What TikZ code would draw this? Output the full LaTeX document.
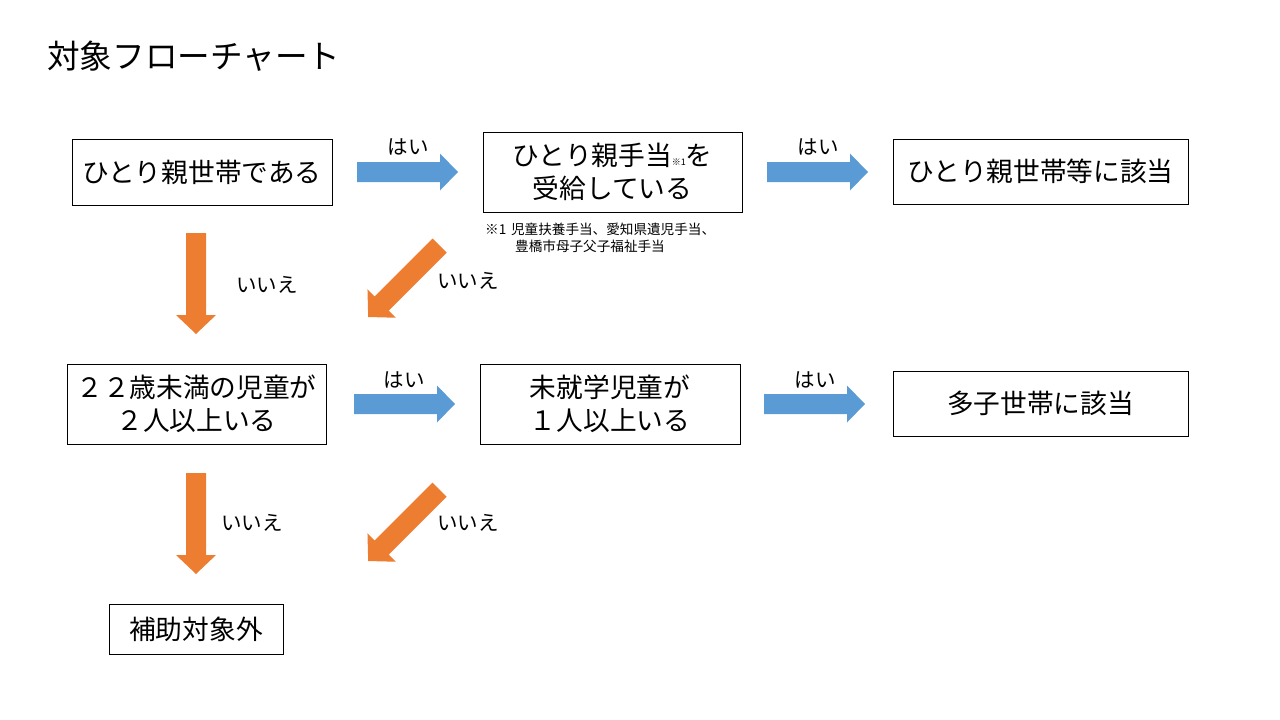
\documentclass[tikz,border=0pt]{standalone}
\usepackage{fontspec}
\setmainfont{Noto Sans CJK JP}
\definecolor{ablue}{HTML}{5B9BD5}
\definecolor{aorange}{HTML}{ED7D31}
\tikzset{
  box/.style={draw=black, line width=0.9pt, fill=white, inner sep=0pt, align=center,
    font=\fontsize{26.7}{33}\selectfont},
  lbl/.style={inner sep=0pt, font=\fontsize{20.5}{24}\selectfont},
  note/.style={inner sep=0pt, anchor=west, font=\fontsize{13.6}{16}\selectfont},
  pics/bluearrow/.style={code={\fill[ablue] (0,-10)--(83,-10)--(83,-18.5)--(101,0)--(83,18.5)--(83,10)--(0,10)--cycle;}},
  pics/orangearrow/.style={code={\fill[aorange] (0,-10)--(82,-10)--(82,-20)--(101,0)--(82,20)--(82,10)--(0,10)--cycle;}},
}
\begin{document}
\begin{tikzpicture}[x=1pt,y=-1pt]
\useasboundingbox (0,0) rectangle (1280,720);
% title
\node[anchor=west, inner sep=0pt, font=\fontsize{32.6}{38}\selectfont] (title) at (47,56) {対象フローチャート};
% boxes
\node[box, minimum width=260, minimum height=66] (b1) at (202,172) {ひとり親世帯である};
\node[box, minimum width=259, minimum height=80] (b2) at (612.5,172) {ひとり親手当{\fontsize{9}{10}\selectfont ※1}を\\受給している};
\node[box, minimum width=295, minimum height=65] (b3) at (1040.5,171.5) {ひとり親世帯等に該当};
\node[box, minimum width=259, minimum height=80] (b4) at (196.5,404) {２２歳未満の児童が\\２人以上いる};
\node[box, minimum width=260, minimum height=80] (b5) at (610,404) {未就学児童が\\１人以上いる};
\node[box, minimum width=295, minimum height=65] (b6) at (1040.5,403.5) {多子世帯に該当};
\node[box, minimum width=174, minimum height=50] (b7) at (196,629) {補助対象外};
% footnote
\node[note] (n1) at (485,229) {※1\hspace{0.35em}児童扶養手当、愛知県遺児手当、};
\node[note] (n2) at (515,246) {豊橋市母子父子福祉手当};
% arrow tails
\coordinate (a1) at (357,172);
\coordinate (a2) at (767,172);
\coordinate (a3) at (354,404);
\coordinate (a4) at (764,404);
\coordinate (d1) at (196,233);
\coordinate (d2) at (196,473);
\coordinate (g1) at (439.6,245.6);
\coordinate (g2) at (439.6,489.6);
\pic at (a1) {bluearrow};
\pic at (a2) {bluearrow};
\pic at (a3) {bluearrow};
\pic at (a4) {bluearrow};
\pic[rotate=-90] at (d1) {orangearrow};
\pic[rotate=-90] at (d2) {orangearrow};
\pic[rotate=-135] at (g1) {orangearrow};
\pic[rotate=-135] at (g2) {orangearrow};
% labels
\node[lbl] (l1) at (408,147) {はい};
\node[lbl] (l2) at (818,147) {はい};
\node[lbl] (l3) at (404,380) {はい};
\node[lbl] (l4) at (815,380) {はい};
\node[lbl] (l5) at (267,285) {いいえ};
\node[lbl] (l6) at (468,281) {いいえ};
\node[lbl] (l7) at (252,523) {いいえ};
\node[lbl] (l8) at (468,523) {いいえ};
\end{tikzpicture}
\end{document}
